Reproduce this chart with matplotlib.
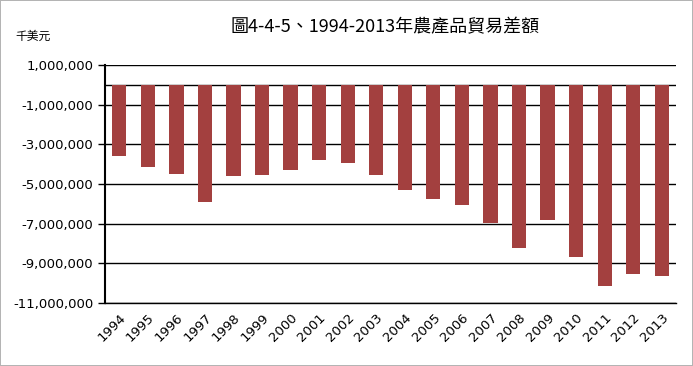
import numpy as np
import matplotlib.pyplot as plt
from matplotlib.ticker import FuncFormatter

# ─── Data (thousand USD) ─────────────────────────────────────────────────────
years = ["1994", "1995", "1996", "1997", "1998", "1999", "2000", "2001", "2002", "2003",
         "2004", "2005", "2006", "2007", "2008", "2009", "2010", "2011", "2012", "2013"]
balance = [-3580000, -4120000, -4480000, -5920000, -4620000, -4530000, -4300000, -3800000,
           -3920000, -4570000, -5280000, -5750000, -6080000, -6950000, -8220000, -6800000,
           -8700000, -10120000, -9530000, -9650000]
yticks = [1000000, -1000000, -3000000, -5000000, -7000000, -9000000, -11000000]

plt.rcParams["font.family"] = ["Noto Sans CJK TC", "DejaVu Sans"]

fig = plt.figure(figsize=(6.93, 3.66), dpi=100)
fig.patch.set_edgecolor("#b4b4b4")
fig.patch.set_linewidth(1.2)
ax = fig.add_axes([0.1515, 0.172, 0.824, 0.6504])

x = np.arange(len(years))
ax.bar(x, balance, width=0.5, color="#a3403f", zorder=3)
ax.axhline(0, color="black", linewidth=1, zorder=2)

ax.set_ylim(-11000000, 1000000)
ax.set_xlim(-0.5, len(years) - 0.5)
ax.set_yticks(yticks)
ax.yaxis.set_major_formatter(FuncFormatter(lambda v, p: f"{int(v):,}"))
ax.grid(axis="y", color="black", linewidth=1, zorder=1)
ax.set_xticks(x)
ax.set_xticklabels(years, rotation=45, ha="right", rotation_mode="anchor", fontsize=9.5,
                   family=["DejaVu Sans"])
for lab in ax.get_yticklabels():
    lab.set_family(["DejaVu Sans"])
    lab.set_fontsize(9.5)
ax.tick_params(axis="x", length=0, pad=6)
ax.tick_params(axis="y", length=5, width=1)

for side in ["top", "right"]:
    ax.spines[side].set_visible(False)
ax.spines["left"].set_linewidth(1.5)
ax.spines["bottom"].set_linewidth(1)

fig.text(0.555, 0.925, "圖4-4-5、1994-2013年農產品貿易差額", ha="center", va="center",
         fontsize=13)
fig.text(0.022, 0.9, "千美元", ha="left", va="center", fontsize=8.5)

plt.savefig("out.png", dpi=100)
